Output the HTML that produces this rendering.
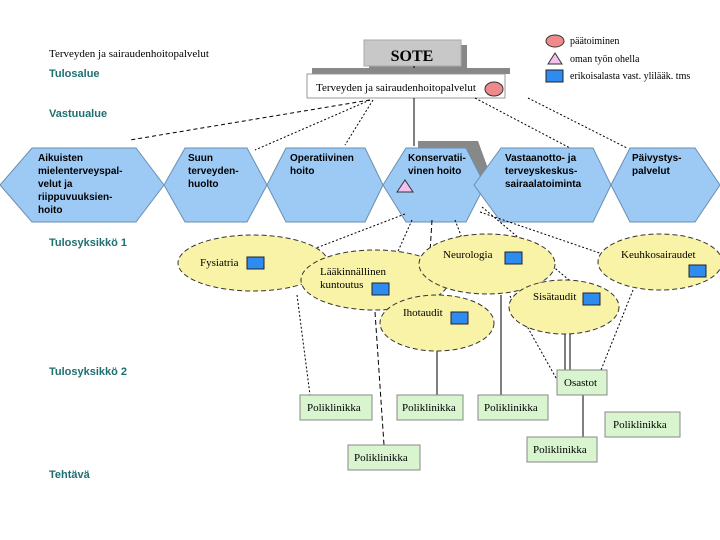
<!DOCTYPE html>
<html><head><style>
body{margin:0;background:#fff;}
svg{display:block;font-family:"Liberation Serif",serif;}
.s{font-family:"Liberation Sans",sans-serif;font-weight:bold;font-size:11px;fill:#1f6f6f}
.h{font-family:"Liberation Sans",sans-serif;font-weight:bold;font-size:10px;fill:#000}
</style></head><body>
<svg width="720" height="540" viewBox="0 0 720 540">
<!-- left labels -->
<text x="49" y="57" font-size="11">Terveyden ja sairaudenhoitopalvelut</text>
<text x="49" y="77" class="s">Tulosalue</text>
<text x="49" y="117" class="s">Vastuualue</text>
<text x="49" y="246" class="s">Tulosyksikkö 1</text>
<text x="49" y="375" class="s">Tulosyksikkö 2</text>
<text x="49" y="478" class="s">Tehtävä</text>
<!-- legend -->
<ellipse cx="555" cy="41" rx="9" ry="6" fill="#f08a8a" stroke="#333"/>
<text x="570" y="44" font-size="10">päätoiminen</text>
<polygon points="548,64 555,53 562,64" fill="#f3c0f0" stroke="#333"/>
<text x="570" y="62" font-size="10">oman työn ohella</text>
<rect x="546" y="70" width="17" height="12" fill="#2e8cf0" stroke="#222"/>
<text x="570" y="79" font-size="10">erikoisalasta vast. ylilääk. tms</text>
<!-- SOTE -->
<rect x="369" y="45" width="98" height="26" fill="#888"/>
<rect x="364" y="40" width="97" height="26" fill="#c8c8c8" stroke="#aaa"/>
<text x="412" y="61" font-size="16" font-weight="bold" text-anchor="middle">SOTE</text>
<line x1="414" y1="66" x2="414" y2="74" stroke="#000"/>
<rect x="312" y="68" width="198" height="6" fill="#888"/>
<rect x="307" y="74" width="198" height="24" fill="#fff" stroke="#999"/>
<text x="316" y="91" font-size="11">Terveyden ja sairaudenhoitopalvelut</text>
<ellipse cx="494" cy="89" rx="9" ry="7" fill="#f08a8a" stroke="#333"/>
<!-- top connectors -->
<g stroke="#000" stroke-width="1" fill="none">
<line x1="370" y1="100" x2="130" y2="140" stroke-dasharray="4,3"/>
<line x1="370" y1="100" x2="255" y2="150" stroke-dasharray="2,2"/>
<line x1="373" y1="100" x2="345" y2="145" stroke-dasharray="2,2"/>
<line x1="414" y1="98" x2="414" y2="146"/>
<line x1="475" y1="98" x2="570" y2="148" stroke-dasharray="2,2"/>
<line x1="528" y1="98" x2="627" y2="148" stroke-dasharray="2,2"/>
</g>
<!-- hexagons -->
<g fill="#9ccaf5" stroke="#6a8fb0" stroke-width="1">
<polygon points="418,141 478,141 493,182 418,182" fill="#888" stroke="none"/>
<polygon points="0,185 32,148 136,148 164,185 136,222 32,222"/>
<polygon points="164,185 185,148 247,148 267,185 247,222 185,222"/>
<polygon points="267,185 286,148 365,148 383,185 365,222 286,222"/>
<polygon points="383,185 406,148 466,148 485,185 466,222 406,222"/>
<polygon points="474,185 501,148 593,148 611,185 593,222 501,222"/>
<polygon points="611,185 630,148 695,148 720,185 695,222 630,222"/>
</g>
<g class="h">
<text x="38" y="161" class="h">Aikuisten</text>
<text x="38" y="174" class="h">mielenterveyspal-</text>
<text x="38" y="187" class="h">velut ja</text>
<text x="38" y="200" class="h">riippuvuuksien-</text>
<text x="38" y="213" class="h">hoito</text>
<text x="188" y="161" class="h">Suun</text>
<text x="188" y="174" class="h">terveyden-</text>
<text x="188" y="187" class="h">huolto</text>
<text x="290" y="161" class="h">Operatiivinen</text>
<text x="290" y="174" class="h">hoito</text>
<text x="408" y="161" class="h">Konservatii-</text>
<text x="408" y="174" class="h">vinen hoito</text>
<text x="505" y="161" class="h">Vastaanotto- ja</text>
<text x="505" y="174" class="h">terveyskeskus-</text>
<text x="505" y="187" class="h">sairaalatoiminta</text>
<text x="632" y="161" class="h">Päivystys-</text>
<text x="632" y="174" class="h">palvelut</text>
</g>
<polygon points="397,192 405,180 413,192" fill="#f3c0f0" stroke="#333"/>
<!-- lower connectors -->
<g stroke="#000" stroke-width="1" fill="none">
<line x1="405" y1="214" x2="290" y2="258" stroke-dasharray="2,2"/>
<line x1="412" y1="220" x2="395" y2="258" stroke-dasharray="2,2"/>
<line x1="432" y1="220" x2="427" y2="300" stroke-dasharray="5,3"/>
<line x1="455" y1="220" x2="462" y2="238" stroke-dasharray="2,2"/>
<line x1="480" y1="212" x2="620" y2="260" stroke-dasharray="2,2"/>
<line x1="482" y1="207" x2="575" y2="285" stroke-dasharray="2,2"/>
<line x1="297" y1="295" x2="310" y2="395" stroke-dasharray="2,2"/>
<line x1="375" y1="312" x2="384" y2="445" stroke-dasharray="5,3"/>
<line x1="437" y1="350" x2="437" y2="395"/>
<line x1="501" y1="295" x2="501" y2="395"/>
<line x1="510" y1="296" x2="560" y2="385" stroke-dasharray="2,2"/>
<line x1="565" y1="334" x2="565" y2="370"/>
<line x1="570" y1="334" x2="570" y2="370"/>
<line x1="583" y1="395" x2="583" y2="437"/>
<line x1="633" y1="290" x2="601" y2="370" stroke-dasharray="2,2"/>
</g>
<!-- ellipses -->
<g fill="#f9f3a8" stroke="#333" stroke-dasharray="5,3" stroke-width="1">
<ellipse cx="253" cy="263" rx="75" ry="28"/>
<ellipse cx="375" cy="280" rx="74" ry="30"/>
<ellipse cx="487" cy="264" rx="68" ry="30"/>
<ellipse cx="660" cy="262" rx="62" ry="28"/>
<ellipse cx="437" cy="323" rx="57" ry="28"/>
<ellipse cx="564" cy="307" rx="55" ry="27"/>
</g>
<g font-size="11">
<text x="200" y="266">Fysiatria</text>
<text x="320" y="275">Lääkinnällinen</text>
<text x="320" y="288">kuntoutus</text>
<text x="443" y="258">Neurologia</text>
<text x="621" y="258">Keuhkosairaudet</text>
<text x="403" y="316">Ihotaudit</text>
<text x="533" y="300">Sisätaudit</text>
</g>
<g fill="#2e8cf0" stroke="#222">
<rect x="247" y="257" width="17" height="12"/>
<rect x="372" y="283" width="17" height="12"/>
<rect x="505" y="252" width="17" height="12"/>
<rect x="689" y="265" width="17" height="12"/>
<rect x="451" y="312" width="17" height="12"/>
<rect x="583" y="293" width="17" height="12"/>
</g>
<!-- boxes -->
<g fill="#d8f5d0" stroke="#888">
<rect x="300" y="395" width="72" height="25"/>
<rect x="397" y="395" width="66" height="25"/>
<rect x="478" y="395" width="70" height="25"/>
<rect x="557" y="370" width="50" height="25"/>
<rect x="605" y="412" width="75" height="25"/>
<rect x="527" y="437" width="70" height="25"/>
<rect x="348" y="445" width="72" height="25"/>
</g>
<g font-size="11">
<text x="307" y="411">Poliklinikka</text>
<text x="402" y="411">Poliklinikka</text>
<text x="484" y="411">Poliklinikka</text>
<text x="564" y="386">Osastot</text>
<text x="613" y="428">Poliklinikka</text>
<text x="533" y="453">Poliklinikka</text>
<text x="354" y="461">Poliklinikka</text>
</g>
</svg>
</body></html>
